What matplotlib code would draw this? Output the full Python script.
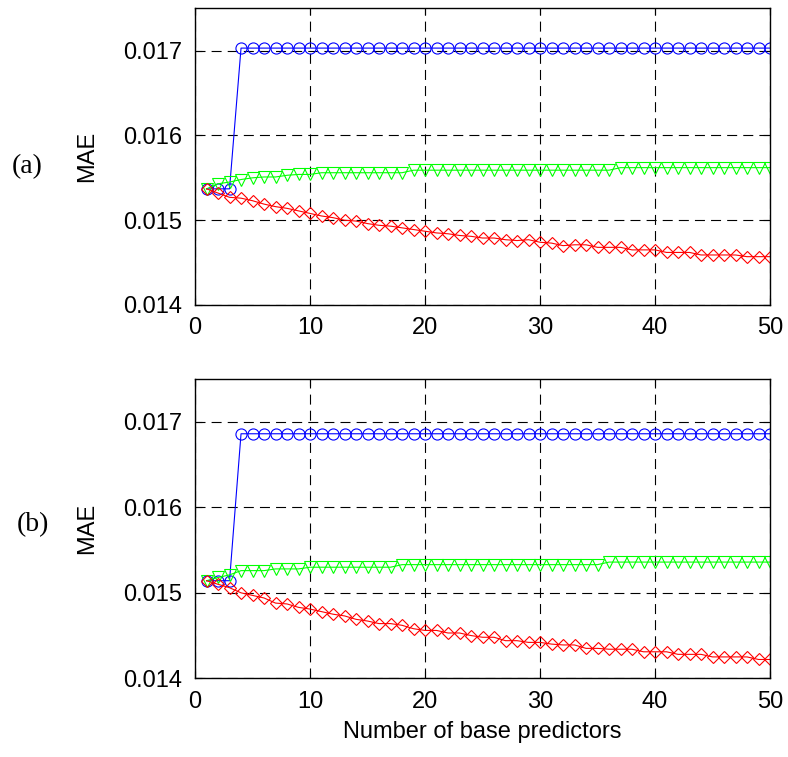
import numpy as np
import matplotlib
matplotlib.use("Agg")
from matplotlib import pyplot as plt

n_pred = list(range(1, 51))

# panel (a)
blue_a = [0.01537] * 3 + [0.01703] * 47
green_a = ([0.01537, 0.01543, 0.01545, 0.01548, 0.01550, 0.01551, 0.01551,
            0.01553, 0.01554, 0.01554] + [0.01556] * 8 + [0.01559] * 18
           + [0.01562] * 14)
red_a = [0.01537, 0.01532, 0.01527, 0.01526, 0.01523, 0.01519, 0.01516,
         0.01514, 0.01511, 0.01508, 0.01505, 0.01503, 0.01500, 0.01499,
         0.01496, 0.01494, 0.01493, 0.01491, 0.01489, 0.01487, 0.01485,
         0.01484, 0.01482, 0.01481, 0.01479, 0.01479, 0.01477, 0.01476,
         0.01477, 0.01474, 0.01473, 0.01470, 0.01471, 0.01471, 0.01468,
         0.01468, 0.01468, 0.01465, 0.01465, 0.01465, 0.01462, 0.01462,
         0.01462, 0.01459, 0.01459, 0.01459, 0.01459, 0.01457, 0.01457,
         0.01457]

# panel (b)
blue_b = [0.015142] * 3 + [0.016862] * 47
green_b = ([0.015142, 0.01518, 0.01521, 0.01526, 0.01526, 0.01526, 0.01528,
            0.01528, 0.01528] + [0.01530] * 8 + [0.01533] * 18
           + [0.01536] * 15)
red_b = [0.015142, 0.01510, 0.01506, 0.01500, 0.01497, 0.01494, 0.01488,
         0.01487, 0.01483, 0.01481, 0.01478, 0.01475, 0.01473, 0.01469,
         0.01467, 0.01464, 0.01464, 0.01462, 0.01458, 0.01456, 0.01456,
         0.01453, 0.01453, 0.01450, 0.01448, 0.01448, 0.01444, 0.01444,
         0.01442, 0.01442, 0.01440, 0.01439, 0.01439, 0.01435, 0.01435,
         0.01434, 0.01434, 0.01434, 0.01431, 0.01431, 0.01431, 0.01428,
         0.01428, 0.01428, 0.01425, 0.01425, 0.01425, 0.01425, 0.01422,
         0.01422]

yticks = [0.014, 0.015, 0.016, 0.017]
ytick_labels = ["0.014", "0.015", "0.016", "0.017"]
xticks = [0, 10, 20, 30, 40, 50]

plt.rcParams["font.family"] = ["Liberation Sans", "DejaVu Sans"]

fig = plt.figure(figsize=(7.88, 7.57), dpi=100)
ax_a = fig.add_axes([0.2475, 0.5971, 0.7297, 0.392])
ax_b = fig.add_axes([0.2475, 0.104, 0.7297, 0.395])

# (axes, series..., tag text, tag x, tag y) -- tag positions in pixels
panels = [(ax_a, blue_a, green_a, red_a, "(a)", 27, 167),
          (ax_b, blue_b, green_b, red_b, "(b)", 33, 525)]

for ax, blue, green, red, tag, tx, ty in panels:
    ax.plot(n_pred, blue, color=(0, 0, 1), lw=0.8, marker="o", ms=8,
            mfc="none", mec=(0, 0, 1), mew=0.8)
    ax.plot(n_pred, green, color=(0, 1, 0), lw=0.8, marker="v", ms=8.5,
            mfc="none", mec=(0, 1, 0), mew=0.8)
    ax.plot(n_pred, red, color=(1, 0, 0), lw=0.8, marker="D", ms=6.5,
            mfc="none", mec=(1, 0, 0), mew=0.8)
    ax.set_xlim(0, 50)
    ax.set_ylim(0.014, 0.0175)
    ax.set_xticks(xticks)
    ax.set_yticks(yticks)
    ax.set_yticklabels(ytick_labels)
    ax.grid(True, color="black", linestyle=(0, (9, 5.5)), linewidth=0.8)
    ax.tick_params(direction="in", top=True, right=True, labelsize=17,
                   length=5, width=0.8, pad=9)
    for s in ax.spines.values():
        s.set_linewidth(1.0)
    ax.set_ylabel("MAE", fontsize=17, labelpad=18)
    fig.text(tx / 788, 1 - ty / 757, tag, fontsize=20,
             family=["Liberation Serif", "DejaVu Serif"], ha="center", va="center")

ax_b.set_xlabel("Number of base predictors", fontsize=17, labelpad=6)

plt.savefig("out.png", dpi=100)
